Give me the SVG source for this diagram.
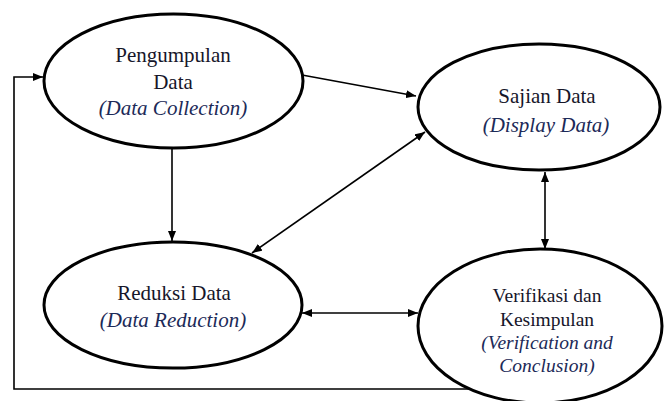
<svg xmlns="http://www.w3.org/2000/svg" width="665" height="401" viewBox="0 0 665 401">
  <style>
    .node { fill: #ffffff; stroke: #000000; stroke-width: 3; }
    .edge { fill: none; stroke: #000000; stroke-width: 1.6; }
    .label { font-family: "Liberation Serif", "Times New Roman", serif; text-anchor: middle; fill: #16162a; }
    .big { font-size: 21px; }
    .small { font-size: 19.5px; }
    .en { font-style: italic; fill: #1c2a58; }
  </style>
  <defs>
    <marker id="arrow" viewBox="0 0 10 8" refX="10" refY="4" markerWidth="10" markerHeight="8" markerUnits="userSpaceOnUse" orient="auto-start-reverse">
      <path d="M0,0 L10,4 L0,8 Z" fill="#000000"/>
    </marker>
  </defs>

  <rect width="665" height="401" fill="#ffffff"/>

  <g id="connectors">
    <!-- feedback loop: verification back to data collection -->
    <polyline class="edge" points="470,389 14,389 14,77 43,77" marker-end="url(#arrow)"/>
    <!-- collection to display -->
    <line class="edge" x1="302" y1="75" x2="416" y2="96" marker-end="url(#arrow)"/>
    <!-- collection to reduction -->
    <line class="edge" x1="172" y1="149" x2="172" y2="241" marker-end="url(#arrow)"/>
    <!-- reduction and display -->
    <line class="edge" x1="252" y1="253" x2="425" y2="132" marker-start="url(#arrow)" marker-end="url(#arrow)"/>
    <!-- display and verification -->
    <line class="edge" x1="545" y1="172" x2="545" y2="249" marker-start="url(#arrow)" marker-end="url(#arrow)"/>
    <!-- reduction and verification -->
    <line class="edge" x1="302" y1="313" x2="418" y2="313" marker-start="url(#arrow)" marker-end="url(#arrow)"/>
  </g>

  <g id="data-collection">
    <ellipse class="node" cx="173.5" cy="81" rx="129.5" ry="67"/>
    <text class="label big" x="173" y="62">Pengumpulan</text>
    <text class="label big" x="173" y="89">Data</text>
    <text class="label big en" x="173" y="115">(Data Collection)</text>
  </g>

  <g id="display-data">
    <ellipse class="node" cx="539" cy="107" rx="121" ry="63"/>
    <text class="label big" x="547" y="103">Sajian Data</text>
    <text class="label big en" x="546" y="132">(Display Data)</text>
  </g>

  <g id="data-reduction">
    <ellipse class="node" cx="173" cy="305" rx="129" ry="63"/>
    <text class="label big" x="174" y="300">Reduksi Data</text>
    <text class="label big en" x="173" y="327">(Data Reduction)</text>
  </g>

  <g id="verification">
    <ellipse class="node" cx="540" cy="326" rx="122" ry="77"/>
    <text class="label small" x="547" y="302">Verifikasi dan</text>
    <text class="label small" x="547" y="326">Kesimpulan</text>
    <text class="label small en" x="547" y="349">(Verification and</text>
    <text class="label small en" x="547" y="372">Conclusion)</text>
  </g>
</svg>
